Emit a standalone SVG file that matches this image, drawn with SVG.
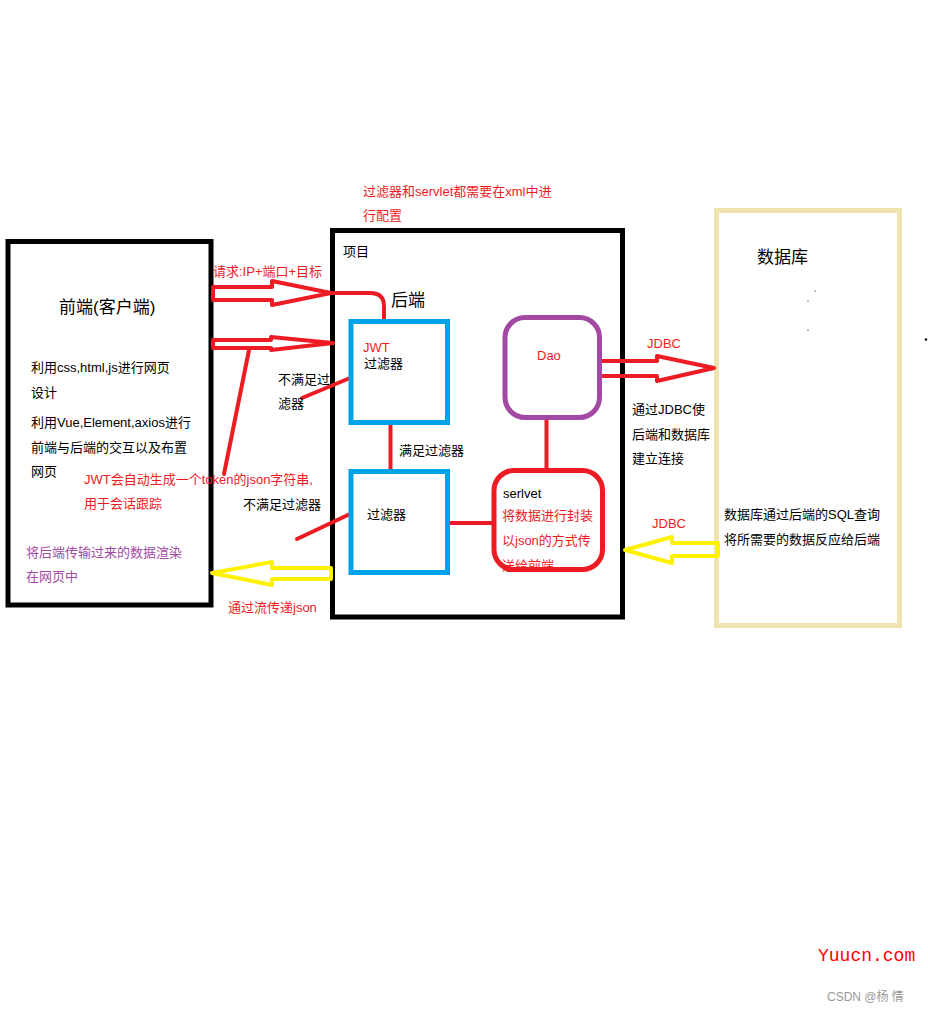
<svg xmlns="http://www.w3.org/2000/svg" width="928" height="1011" viewBox="0 0 928 1011">
<style>
text{font-family:"Liberation Sans","Noto Sans CJK SC",sans-serif;font-size:13px;fill:#000}
.r{fill:#ED1C24}
.p{fill:#A349A4}
.big{font-size:17px}
.ln{fill:none;stroke:#ED1C24;stroke-width:4;stroke-linecap:round;stroke-linejoin:round}
.ya{fill:none;stroke:#FFF200;stroke-width:4;stroke-linejoin:round}
.blk{fill:#fff;stroke:#000;stroke-width:5}
.blue{fill:#fff;stroke:#00A2E8;stroke-width:5}
</style>
<rect width="928" height="1011" fill="#fff"/>

<g id="frontend">
<rect class="blk" x="8" y="241.5" width="203" height="363.5"/>
<text class="big" x="59" y="313">前端(客户端)</text>
<text x="31" y="372">利用css,html,js进行网页</text>
<text x="31" y="397">设计</text>
<text x="31" y="427">利用Vue,Element,axios进行</text>
<text x="31" y="452">前端与后端的交互以及布置</text>
<text x="31" y="476">网页</text>
<text class="p" x="26" y="557">将后端传输过来的数据渲染</text>
<text class="p" x="26" y="581">在网页中</text>
</g>

<g id="project">
<rect class="blk" x="332.5" y="230.5" width="290" height="386.5"/>
<text x="343" y="256">项目</text>
<text class="big" x="391" y="306">后端</text>
</g>

<g id="database">
<rect x="716.5" y="210.5" width="183" height="415" fill="#fff" stroke="#EFE4B0" stroke-width="5"/>
<text class="big" x="757" y="263">数据库</text>
<rect x="814.5" y="290.5" width="1" height="1" fill="#000"/>
<rect x="807.5" y="300.5" width="1" height="1" fill="#000"/>
<rect x="807.5" y="329.5" width="1" height="1" fill="#000"/>
<circle cx="926" cy="339.5" r="1.2" fill="#000"/>
<text x="724" y="519">数据库通过后端的SQL查询</text>
<text x="724" y="544">将所需要的数据反应给后端</text>
</g>

<g id="connectors">
<!-- request arrow -->
<path class="ln" d="M213,287 L272,287 L272,281 L331,293 L272,305 L272,300 L213,300 Z"/>
<path class="ln" d="M333,293 L370,293 Q384,293 384,306 L384,320"/>
<!-- second arrow -->
<path class="ln" d="M213,340 L271,340 L271,337 L333,343 L271,350 L271,348 L213,348 Z"/>
<path class="ln" stroke-width="5" d="M249,350 L224,474"/>
<!-- not-satisfied lines -->
<path class="ln" stroke-width="5" d="M350,378 L302,398"/>
<path class="ln" stroke-width="5" d="M350,514 L297,539"/>
<!-- JWT to filter -->
<path class="ln" stroke-width="5" d="M390.5,423 L390.5,471"/>
<!-- filter to servlet -->
<path class="ln" stroke-width="5" d="M448,523 L494,523"/>
<!-- Dao to servlet -->
<path class="ln" stroke-width="4" d="M546.5,418 L546.5,470"/>
<!-- JDBC arrow right -->
<path class="ln" d="M600,361 L657,361 L657,356 L714,368 L657,381 L657,376 L600,376 Z"/>
<!-- yellow JDBC arrow left -->
<path class="ya" d="M718,543 L672,543 L672,537 L625,550 L672,563 L672,556 L718,556 Z"/>
<!-- yellow arrow to frontend -->
<path class="ya" d="M331,568 L272,568 L272,562 L212,573 L272,585 L272,579 L331,579 Z"/>
</g>

<g id="jwt-filter">
<rect class="blue" x="351" y="321.5" width="96.5" height="101"/>
<text class="r" x="363" y="352">JWT</text>
<text x="364" y="368">过滤器</text>
</g>

<g id="filter">
<rect class="blue" x="351" y="471.5" width="96.5" height="101"/>
<text x="367" y="519">过滤器</text>
</g>

<g id="dao">
<rect x="505" y="317.5" width="94.5" height="100" rx="20" fill="#fff" stroke="#A349A4" stroke-width="5"/>
<text class="r" x="537" y="360">Dao</text>
</g>

<g id="servlet">
<text x="503" y="498">serlvet</text>
<text class="r" x="502" y="520">将数据进行封装</text>
<text class="r" x="502" y="545">以json的方式传</text>
<text class="r" x="502" y="570">送给前端</text>
<rect x="494" y="470.5" width="108.5" height="99" rx="20" fill="none" stroke="#ED1C24" stroke-width="5"/>
</g>

<g id="labels">
<text class="r" x="363" y="196">过滤器和servlet都需要在xml中进</text>
<text class="r" x="363" y="220">行配置</text>
<text class="r" x="213" y="276">请求:IP+端口+目标</text>
<text x="278" y="384">不满足过</text>
<text x="278" y="408">滤器</text>
<text x="399" y="455">满足过滤器</text>
<text x="243" y="509">不满足过滤器</text>
<text class="r" x="84" y="484">JWT会自动生成一个token的json字符串,</text>
<text class="r" x="84" y="508">用于会话跟踪</text>
<text class="r" x="228" y="612">通过流传递json</text>
<text class="r" x="647" y="348">JDBC</text>
<text x="632" y="414">通过JDBC使</text>
<text x="632" y="439">后端和数据库</text>
<text x="632" y="463">建立连接</text>
<text class="r" x="652" y="528">JDBC</text>
</g>

<g id="watermark">
<text x="818" y="961" style="font-family:'Liberation Mono',monospace;font-size:18px;fill:#FF0000">Yuucn.com</text>
<text x="827" y="1001" style="font-size:12px;fill:#999">CSDN @杨 情</text>
</g>
</svg>
